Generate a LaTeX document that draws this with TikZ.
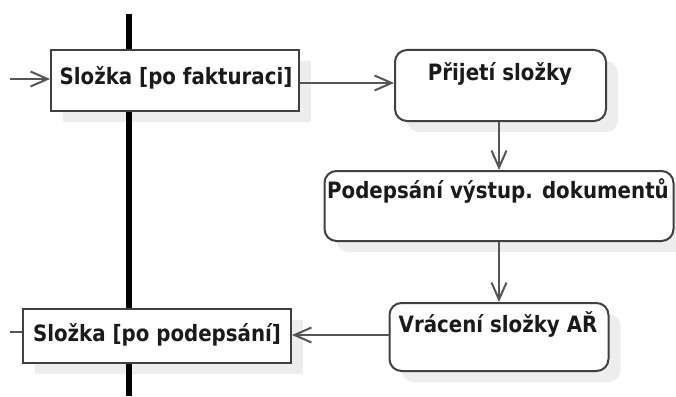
\documentclass[tikz,border=0pt]{standalone}
\usepackage{fontspec}
\newfontfamily\lblfont[FakeStretch=0.88]{DejaVu Sans}
\usetikzlibrary{arrows.meta,shadows}

\definecolor{boxline}{HTML}{404040}
\definecolor{flowline}{HTML}{555555}
\definecolor{textcol}{HTML}{1A1A1A}

\begin{document}
\begin{tikzpicture}[x=1pt,y=-1pt,
  lane/.style={line width=6pt, draw=black},
  objbox/.style={draw=boxline, line width=2pt, fill=white, inner sep=0pt,
    drop shadow={shadow xshift=12pt, shadow yshift=-11pt, fill=black, opacity=0.07}},
  actbox/.style={objbox, rounded corners=12pt},
  lbltext/.style={font=\lblfont\bfseries\fontsize{22.5}{26}\selectfont, text=textcol,
    inner sep=0pt, anchor=base},
  flow/.style={draw=flowline, line width=2pt,
    -{Straight Barb[length=17pt,width=15pt]}},
  stub/.style={draw=flowline, line width=2pt},
]
\useasboundingbox (0,0) rectangle (676,396);

% swimlane separator
\coordinate (laneTop) at (128.5,14);
\coordinate (laneBot) at (128.5,396);
\draw[lane] (laneTop) -- (laneBot);

% object nodes and actions
\node[objbox, minimum width=248pt, minimum height=61pt] (b1) at (175,80.5) {};
\node[actbox, minimum width=211pt, minimum height=71pt] (b2) at (500.5,85.5) {};
\node[actbox, minimum width=349pt, minimum height=70pt] (b3) at (499,206) {};
\node[actbox, minimum width=219pt, minimum height=68pt] (b4) at (499,337) {};
\node[objbox, minimum width=268pt, minimum height=54pt] (b5) at (157,336) {};

\node[lbltext] (t1) at (176,84) {Složka [po fakturaci]};
\node[lbltext] (t2) at (500,80) {Přijetí složky};
\node[lbltext] (t3) at (498,198) {Podepsání výstup. dokumentů};
\node[lbltext] (t4) at (498,332) {Vrácení složky AŘ};
\node[lbltext] (t5) at (157,341) {Složka [po podepsání]};

% connectors
\coordinate (src) at (10,79);
\coordinate (sink) at (10,332);
\draw[flow] (src) -- (src -| b1.west);
\draw[flow] ([yshift=-2.5pt]b1.east) -- ([yshift=-2.5pt]b1.east -| b2.west);
\draw[flow] (b2.south -| b3.north) -- (b3.north);
\draw[flow] (b3.south) -- (b4.north);
\draw[flow] ([yshift=2pt]b4.west) -- ([yshift=2pt]b4.west -| b5.east);
\draw[stub] (b5.west |- sink) -- (sink);
\end{tikzpicture}
\end{document}
